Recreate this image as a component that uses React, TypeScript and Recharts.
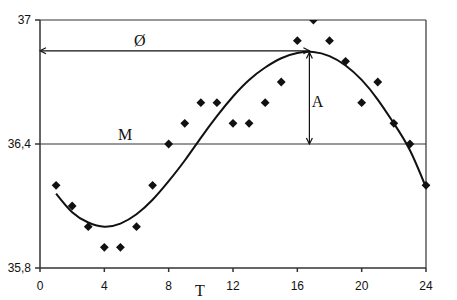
import React from 'react';
import { ComposedChart, Line, Scatter, XAxis, YAxis, ReferenceLine, ReferenceDot } from 'recharts';

// hourly body temperature readings
const hours = [1, 2, 3, 4, 5, 6, 7, 8, 9, 10, 11, 12, 13, 14, 15, 16, 17, 18, 19, 20, 21, 22, 23, 24];
const temps = [36.2, 36.1, 36.0, 35.9, 35.9, 36.0, 36.2, 36.4, 36.5, 36.6, 36.6, 36.5, 36.5, 36.6, 36.7, 36.9, 37.0, 36.9, 36.8, 36.6, 36.7, 36.5, 36.4, 36.2];
// fitted curve
const fitted = [36.16, 36.07, 36.02, 36.0, 36.015, 36.06, 36.13, 36.22, 36.32, 36.43, 36.535, 36.63, 36.71, 36.77, 36.815, 36.84, 36.845, 36.825, 36.78, 36.71, 36.615, 36.5, 36.37, 36.19];

const xTicks = [0, 4, 8, 12, 16, 20, 24];
const yTicks = [35.8, 36.4, 37];

const mesor = 36.4;
const peakX = 16.75;
const peakY = 36.851;

const points = hours.map((h, i) => ({ x: h, y: temps[i] }));
const curve = hours.map((h, i) => ({ x: h, y: fitted[i] }));

const fmt = (v: number) => String(v).replace('.', ',');

const Diamond = (props: any) => {
  const { cx, cy } = props;
  const r = 4.4;
  return <polygon points={`${cx},${cy - r} ${cx + r},${cy} ${cx},${cy + r} ${cx - r},${cy}`} fill="#111" />;
};

// line with open arrow heads on both ends
const Arrow = (props: any) => {
  const { x1, y1, x2, y2 } = props;
  const dx = x2 - x1;
  const dy = y2 - y1;
  const len = Math.sqrt(dx * dx + dy * dy) || 1;
  const ux = dx / len;
  const uy = dy / len;
  const h = 6;
  const w = 3;
  const head = (x: number, y: number, s: number) =>
    `M${x + s * ux * h - uy * w},${y + s * uy * h + ux * w} L${x},${y} L${x + s * ux * h + uy * w},${y + s * uy * h - ux * w}`;
  return (
    <g stroke="#111" strokeWidth={1.2} fill="none">
      <line x1={x1} y1={y1} x2={x2} y2={y2} />
      <path d={head(x1, y1, 1)} />
      <path d={head(x2, y2, -1)} />
    </g>
  );
};

const textLabel = (txt: string) => (props: any) => (
  <text x={props.cx} y={props.cy} textAnchor="middle" fontFamily="Liberation Serif" fontSize={16} fill="#111">
    {txt}
  </text>
);

const App = () => {
  return (
    <div style={{ position: 'absolute', left: 0, top: 0, background: '#fff' }}>
      <ComposedChart width={457} height={300} margin={{ top: 20, right: 31, left: 0, bottom: 0 }}>
        <XAxis
          type="number"
          dataKey="x"
          domain={[0, 24]}
          ticks={xTicks}
          height={32}
          stroke="#333"
          strokeWidth={1.5}
          tickSize={4}
          tickMargin={9}
          tick={{ fill: '#111', fontSize: 12, fontFamily: 'Liberation Sans' }}
          label={(p: any) => (
            <text x={p.viewBox.x + 160} y={296} textAnchor="middle" fontFamily="Liberation Serif" fontSize={16} fill="#111">
              T
            </text>
          )}
        />
        <YAxis
          type="number"
          dataKey="y"
          domain={[35.8, 37]}
          ticks={yTicks}
          allowDataOverflow
          width={40}
          stroke="#333"
          strokeWidth={1.5}
          tickSize={5}
          tickMargin={4}
          tickFormatter={fmt}
          tick={{ fill: '#111', fontSize: 12, fontFamily: 'Liberation Sans' }}
        />
        <ReferenceLine y={37} stroke="#333" strokeWidth={1.2} />
        <ReferenceLine x={24} stroke="#333" strokeWidth={1.2} />
        <ReferenceLine y={mesor} stroke="#333" strokeWidth={1.2} />
        <ReferenceLine segment={[{ x: 0, y: peakY }, { x: peakX, y: peakY }]} shape={Arrow} />
        <ReferenceLine segment={[{ x: peakX, y: mesor }, { x: peakX, y: peakY - 0.008 }]} shape={Arrow} />
        <Line
          data={curve}
          dataKey="y"
          type="natural"
          stroke="#111"
          strokeWidth={2}
          dot={false}
          activeDot={false}
          isAnimationActive={false}
        />
        <Scatter data={points} dataKey="y" shape={<Diamond />} isAnimationActive={false} />
        <ReferenceDot x={5.3} y={36.42} shape={textLabel('M')} />
        <ReferenceDot x={6.2} y={36.874} shape={textLabel('Ø')} />
        <ReferenceDot x={17.25} y={36.58} shape={textLabel('A')} />
      </ComposedChart>
    </div>
  );
};

export default App;
